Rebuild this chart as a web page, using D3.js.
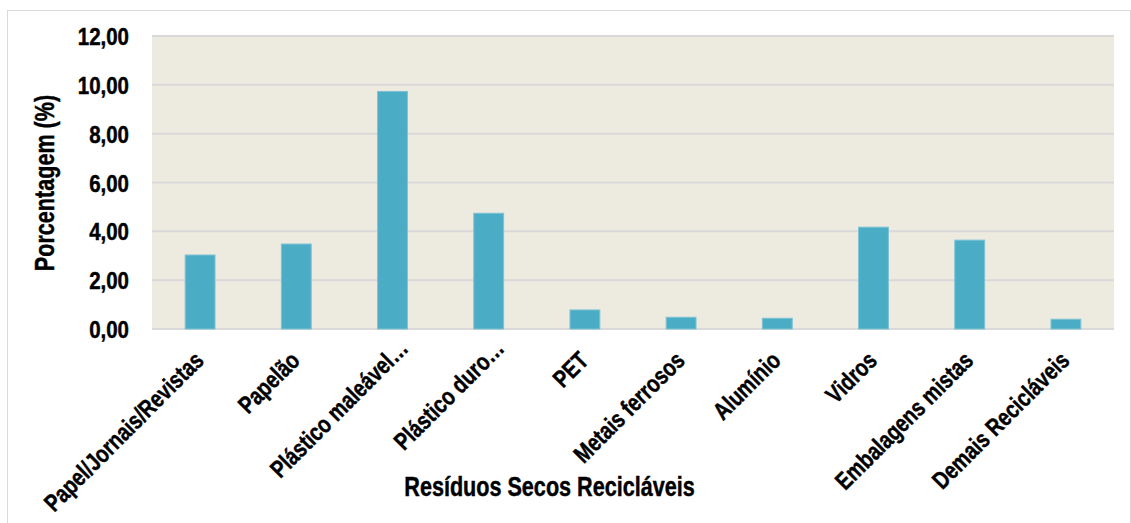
<!DOCTYPE html>
<html>
<head>
<meta charset="utf-8">
<script src="https://cdn.jsdelivr.net/npm/d3@7"></script>
<style>
  html, body { margin: 0; padding: 0; background: #ffffff; }
  svg text { font-family: "Liberation Sans", Arial, sans-serif; font-weight: bold; fill: #000;
             stroke: #000; stroke-width: 0.45px; }
</style>
</head>
<body>
<svg id="chart" width="1131" height="523"></svg>
<script>
// Composição dos resíduos secos recicláveis (%)
const categories = [
  "Papel/Jornais/Revistas", "Papelão", "Plástico maleável…", "Plástico duro…", "PET",
  "Metais ferrosos", "Alumínio", "Vidros", "Embalagens mistas", "Demais Recicláveis"
];
const values = [3.03, 3.48, 9.73, 4.74, 0.78, 0.48, 0.44, 4.17, 3.64, 0.40];
const yTicks = [0, 2, 4, 6, 8, 10, 12];
const yTitle = "Porcentagem (%)";
const xTitle = "Resíduos Secos Recicláveis";

const svg = d3.select("#chart");
const plot = { left: 152, right: 1114, top: 36, bottom: 329 };
// the bold face is narrowed horizontally to get a condensed look
const narrow = 0.8;

// chart frame
svg.append("rect")
  .attr("x", 7.5).attr("y", 10.5)
  .attr("width", 1123).attr("height", 520)
  .attr("fill", "#fff").attr("stroke", "#d9d9d9").attr("stroke-width", 1);

const x = d3.scaleBand().domain(categories).range([plot.left, plot.right])
  .paddingInner(0.69).paddingOuter(0.345);
const y = d3.scaleLinear().domain([0, 12]).range([plot.bottom, plot.top]);

// plot background
svg.append("rect")
  .attr("x", plot.left).attr("y", plot.top)
  .attr("width", plot.right - plot.left).attr("height", plot.bottom - plot.top)
  .attr("fill", "#edeae0");

// gridlines
svg.append("g").selectAll("line").data(yTicks).join("line")
  .attr("x1", plot.left).attr("x2", plot.right)
  .attr("y1", d => y(d)).attr("y2", d => y(d))
  .attr("stroke", "#d9d9d9").attr("stroke-width", 2);

// bars
svg.append("g").selectAll("rect").data(values).join("rect")
  .attr("x", (d, i) => x(categories[i]))
  .attr("y", d => y(d))
  .attr("width", x.bandwidth())
  .attr("height", d => y(0) - y(d))
  .attr("fill", "#4bacc6")
  .attr("stroke", "#7cc2d4").attr("stroke-width", 1);

// y axis
const yAxis = d3.axisLeft(y).tickValues(yTicks).tickSize(0).tickPadding(0)
  .tickFormat(d => d3.format(".2f")(d).replace(".", ","));
const gy = svg.append("g").attr("transform", "translate(129,0)").call(yAxis);
gy.select(".domain").remove();
gy.attr("font-family", null).attr("font-size", null);
gy.selectAll("text")
  .attr("font-size", 23)
  .attr("x", 0).attr("dy", null)
  .attr("text-anchor", "end")
  .attr("transform", "translate(0,8.5) scale(0.89,1)");

// x axis: rotated category labels; truncated labels sit a little further along the diagonal
const xAxis = d3.axisBottom(x).tickSize(0).tickPadding(0);
const gx = svg.append("g").attr("transform", `translate(0,${plot.bottom})`).call(xAxis);
gx.select(".domain").remove();
gx.attr("font-family", null).attr("font-size", null);
gx.selectAll("text")
  .attr("font-size", 24.5)
  .attr("text-anchor", "end")
  .attr("x", 0).attr("y", 0).attr("dy", null)
  .attr("transform", d => {
    const shift = d.endsWith("…") ? 12 : 0;
    return `translate(${5 + shift},${33 - shift}) rotate(-45) scale(${narrow},1)`;
  });

// axis titles
svg.append("text")
  .attr("transform", `translate(54,183) rotate(-90) scale(${narrow},1)`)
  .attr("text-anchor", "middle").attr("font-size", 27)
  .text(yTitle);
svg.append("text")
  .attr("transform", `translate(549.5,496) scale(${narrow},1)`)
  .attr("text-anchor", "middle").attr("font-size", 27)
  .text(xTitle);
</script>
</body>
</html>
